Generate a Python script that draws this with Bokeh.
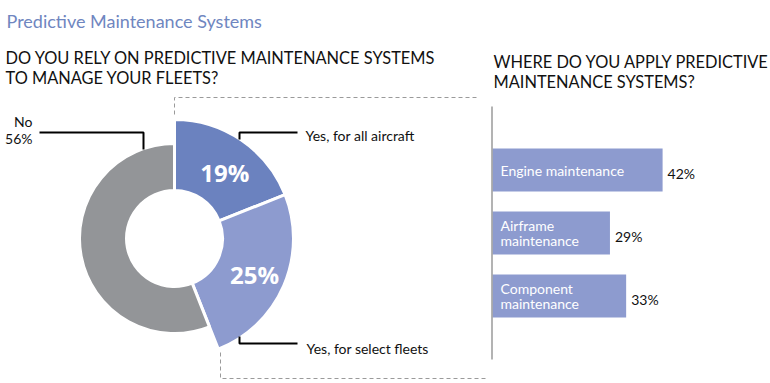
import math
from bokeh.plotting import figure
from bokeh.layouts import row
from bokeh.models import Range1d
from bokeh.core.properties import value
from bokeh.embed import file_html
from bokeh.resources import INLINE

# ---------------- data ----------------
pie_labels = ["Yes, for all aircraft", "Yes, for select fleets", "No"]
pie_values = [19, 25, 56]
pie_colors = ["#6b82bf", "#8d9bcf", "#939598"]

bar_labels = [["Engine maintenance"], ["Airframe", "maintenance"], ["Component", "maintenance"]]
bar_values = [42, 29, 33]

title = "Predictive Maintenance Systems"
q1 = ["DO YOU RELY ON PREDICTIVE MAINTENANCE SYSTEMS", "TO MANAGE YOUR FLEETS?"]
q2 = ["WHERE DO YOU APPLY PREDICTIVE", "MAINTENANCE SYSTEMS?"]

FONT = value("Lato")
H = 383
LW = 490
RW = 770 - LW


def Y(py):
    return H - py


# ---------------- left figure (title + donut) ----------------
p = figure(width=LW, height=H, x_range=Range1d(0, LW), y_range=Range1d(0, H),
           output_backend="svg", toolbar_location=None,
           x_axis_location=None, y_axis_location=None, min_border=0)
p.grid.visible = False
p.outline_line_color = None
p.background_fill_color = "white"

p.text(x=[6], y=[Y(20)], text=[title], text_font=FONT, text_font_size="18px",
       text_color="#6f86c0", text_baseline="alphabetic")
p.text(x=[5, 5], y=[Y(57), Y(77)], text=q1, text_font=FONT, text_font_size="16.4px",
       text_color="#111111", text_baseline="alphabetic")

cx, cy = 174, Y(238)
inner_r = 48
outer_r = [119, 119, 95]
total = sum(pie_values)
cum = 0
mids = []
for v, col, r in zip(pie_values, pie_colors, outer_r):
    a_start = 90 - (cum + v) / total * 360
    a_end = 90 - cum / total * 360
    p.annular_wedge(x=cx, y=cy, inner_radius=inner_r, outer_radius=r,
                    start_angle=a_start, end_angle=a_end, start_angle_units="deg",
                    end_angle_units="deg", fill_color=col, line_color="white",
                    line_width=3)
    mids.append((a_start + a_end) / 2)
    cum += v

# in-slice percentages for the two "yes" slices
lab_r = 84
for v, m in zip(pie_values[:2], mids[:2]):
    p.text(x=[cx + 3 + lab_r * math.cos(math.radians(m))],
           y=[cy - 3 + lab_r * math.sin(math.radians(m))],
           text=[f"{v}%"], text_font=value("Open Sans"), text_font_style="bold",
           text_font_size="24px", text_color="white", text_align="center",
           text_baseline="middle")

# outside labels
p.text(x=[32, 32], y=[Y(121), Y(138)], text=["No", f"{pie_values[2]}%"], text_font=FONT,
       text_font_size="14px", text_color="#111111", text_align="right",
       text_baseline="alphabetic")
p.text(x=[305], y=[Y(135)], text=[pie_labels[0]], text_font=FONT, text_font_size="14px",
       text_color="#111111", text_baseline="alphabetic")
p.text(x=[306], y=[Y(348)], text=[pie_labels[1]], text_font=FONT, text_font_size="14px",
       text_color="#111111", text_baseline="alphabetic")

# leader lines
p.line(x=[39, 143, 143], y=[Y(132), Y(132), Y(149)], line_color="black", line_width=2)
p.line(x=[297, 239, 239], y=[Y(132), Y(132), Y(139)], line_color="black", line_width=2)
p.line(x=[239, 239, 297], y=[Y(336), Y(343), Y(343)], line_color="black", line_width=2)

# dashed frame
dash = dict(line_color="#9a9a9a", line_width=1, line_dash="4 3")
p.line(x=[174, 174, 478], y=[Y(114), Y(97), Y(97)], **dash)
p.line(x=[220, 220, 486], y=[Y(352), Y(378), Y(378)], **dash)

# ---------------- right figure (bars) ----------------
PX = 4.05  # pixels per percent
X0 = 2     # local pixel of value 0
BY0, BSTEP = 169.5, 63.0


def XR(px_local):
    return (px_local - X0) / PX


def YR(py):
    return (py - BY0) / BSTEP


q = figure(width=RW, height=H, x_range=Range1d(XR(0), XR(RW)),
           y_range=Range1d(YR(H), YR(0)), output_backend="svg", toolbar_location=None,
           x_axis_location=None, y_axis_location=None, min_border=0)
q.grid.visible = False
q.outline_line_color = None

q.text(x=[XR(3), XR(3)], y=[YR(60.5), YR(81)], text=q2, text_font=FONT,
       text_font_size="16.4px", text_color="#111111", text_baseline="alphabetic")

idx = list(range(len(bar_values)))
q.hbar(y=idx, left=0, right=bar_values, height=43 / BSTEP, fill_color="#8d9bcf",
       line_color=None)
q.segment(x0=[XR(1.5)], y0=[YR(106)], x1=[XR(1.5)], y1=[YR(359)], line_color="#9a9a9a",
          line_width=1.5)

for i, (lines, v) in enumerate(zip(bar_labels, bar_values)):
    n = len(lines)
    for j, t in enumerate(lines):
        off = (j - (n - 1) / 2) * 15 / BSTEP
        q.text(x=[XR(10)], y=[i + off], text=[t], text_font=FONT, text_font_size="14px",
               text_color="white", text_baseline="middle")
    q.text(x=[v + 5 / PX], y=[i + 3 / BSTEP], text=[f"{v}%"], text_font=FONT,
           text_font_size="14px", text_color="#111111", text_baseline="middle")

layout = row(p, q, spacing=0)
open("out.html", "w").write(file_html(layout, INLINE))
